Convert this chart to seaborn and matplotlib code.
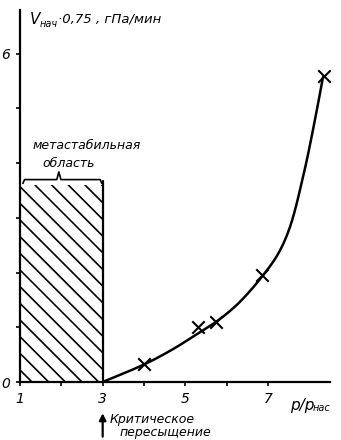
import numpy as np
import pandas as pd
import matplotlib
matplotlib.use("Agg")
import matplotlib.pyplot as plt
import seaborn as sns

# Measured growth rate versus supersaturation
ratio_pts = [4.0, 5.3, 5.75, 6.85, 8.35]
rate_pts = [0.33, 1.0, 1.1, 1.95, 5.6]

# Smooth trend line drawn through the measurements
curve_x = [3.0, 4.0, 4.7, 5.35, 5.8, 6.3, 6.88, 7.25, 7.53, 7.86, 8.12, 8.33]
curve_y = [0.0, 0.32, 0.6, 0.91, 1.13, 1.45, 1.95, 2.35, 2.83, 3.79, 4.73, 5.57]

# Metastable zone: from ratio 1 up to the critical supersaturation
meta_left, meta_right = 1.0, 3.0
meta_height = 3.6

x_major = [1, 3, 5, 7]
x_minor = [2, 4, 6]
y_major = [0, 6]
y_minor = [1, 2, 3, 4, 5]


def centripetal_spline(xs, ys, n=30, alpha=0.5):
    p = np.column_stack([xs, ys]).astype(float)
    p = np.vstack([2 * p[0] - p[1], p, 2 * p[-1] - p[-2]])
    out = []
    for i in range(1, len(p) - 2):
        p0, p1, p2, p3 = p[i - 1], p[i], p[i + 1], p[i + 2]
        t0 = 0.0
        t1 = t0 + np.linalg.norm(p1 - p0) ** alpha
        t2 = t1 + np.linalg.norm(p2 - p1) ** alpha
        t3 = t2 + np.linalg.norm(p3 - p2) ** alpha
        t = np.linspace(t1, t2, n, endpoint=False)[:, None]
        a1 = (t1 - t) / (t1 - t0) * p0 + (t - t0) / (t1 - t0) * p1
        a2 = (t2 - t) / (t2 - t1) * p1 + (t - t1) / (t2 - t1) * p2
        a3 = (t3 - t) / (t3 - t2) * p2 + (t - t2) / (t3 - t2) * p3
        b1 = (t2 - t) / (t2 - t0) * a1 + (t - t0) / (t2 - t0) * a2
        b2 = (t3 - t) / (t3 - t1) * a2 + (t - t1) / (t3 - t1) * a3
        out.append((t2 - t) / (t2 - t1) * b1 + (t - t1) / (t2 - t1) * b2)
    out.append(p[-2][None, :])
    s = np.vstack(out)
    return s[:, 0], s[:, 1]


sns.set_style("ticks")
plt.rcParams["font.family"] = ["DejaVu Sans"]
plt.rcParams["hatch.linewidth"] = 1.2
for key in ("text.color", "axes.edgecolor", "xtick.color", "ytick.color",
            "axes.labelcolor"):
    plt.rcParams[key] = "black"

W, H = 341, 440
fig = plt.figure(figsize=(W / 100, H / 100), dpi=100)
ax = fig.add_axes([20 / W, (H - 382) / H, 310 / W, 372 / H])
ax.set_xlim(1, 8.5)
ax.set_ylim(0, 6.8)

# hatched metastable region with its right boundary
ax.fill_between([meta_left, meta_right], 0, meta_height, hatch="\\\\",
                facecolor="none", edgecolor="black", linewidth=0)
ax.plot([meta_right, meta_right], [0, meta_height + 0.08], color="black", lw=1.6)

# curly brace over the region
bx0, bx1 = meta_left + 0.07, meta_right - 0.02
bm = (meta_left + meta_right) / 2 - 0.06
by = meta_height + 0.1
brace_x = [bx0, bx0 + 0.04, bm - 0.05, bm, bm + 0.05, bx1 - 0.04, bx1]
brace_y = [by - 0.07, by, by, by + 0.14, by, by, by - 0.07]
ax.plot(brace_x, brace_y, color="black", lw=1.2)

ax.text(2.62, 4.32, "метастабильная", style="italic", fontsize=9,
        ha="center", va="center")
ax.text(2.18, 4.0, "область", style="italic", fontsize=9,
        ha="center", va="center")

# trend curve and measured points
cx, cy = centripetal_spline(curve_x, curve_y)
curve = pd.DataFrame({"ratio": cx, "rate": cy})
sns.lineplot(data=curve, x="ratio", y="rate", sort=False, color="black",
             lw=1.8, ax=ax)
pts = pd.DataFrame({"ratio": ratio_pts, "rate": rate_pts})
sns.scatterplot(data=pts, x="ratio", y="rate", marker="x", s=80,
                color="black", linewidth=1.5, ax=ax, zorder=5)

sns.despine(ax=ax)
for s in ("left", "bottom"):
    ax.spines[s].set_linewidth(1.6)
ax.set_xticks(x_major)
ax.set_xticks(x_minor, minor=True)
ax.set_yticks(y_major)
ax.set_yticks(y_minor, minor=True)
ax.set_xticklabels([str(v) for v in x_major], style="italic", fontsize=10)
ax.set_yticklabels([str(v) for v in y_major], style="italic", fontsize=10)
ax.tick_params(which="both", direction="out", length=3, width=1.2, pad=4,
               colors="black")
ax.set_xlabel("")
ax.set_ylabel("")

# axis captions and annotations
fig.text(30 / W, 1 - 19 / H, "V", style="italic", fontsize=11, va="center")
fig.text(40 / W, 1 - 24 / H, "нач", style="italic", fontsize=7, va="center")
fig.text(58 / W, 1 - 19 / H, "·0,75 , гПа/мин", style="italic",
         fontsize=9.5, va="center")

fig.text(290 / W, 1 - 405 / H, "p/p", style="italic", fontsize=11, va="center")
fig.text(313 / W, 1 - 408 / H, "нас", style="italic", fontsize=7, va="center")

ax.annotate("", xy=(meta_right, -0.52), xycoords="data",
            xytext=(meta_right, -1.05),
            arrowprops=dict(arrowstyle="-|>", color="black", lw=1.6,
                            mutation_scale=10),
            annotation_clip=False)
fig.text(110 / W, 1 - 419 / H, "Критическое", style="italic", fontsize=9,
         va="center")
fig.text(120 / W, 1 - 432 / H, "пересыщение", style="italic", fontsize=9,
         va="center")

fig.savefig("out.png", dpi=100)
